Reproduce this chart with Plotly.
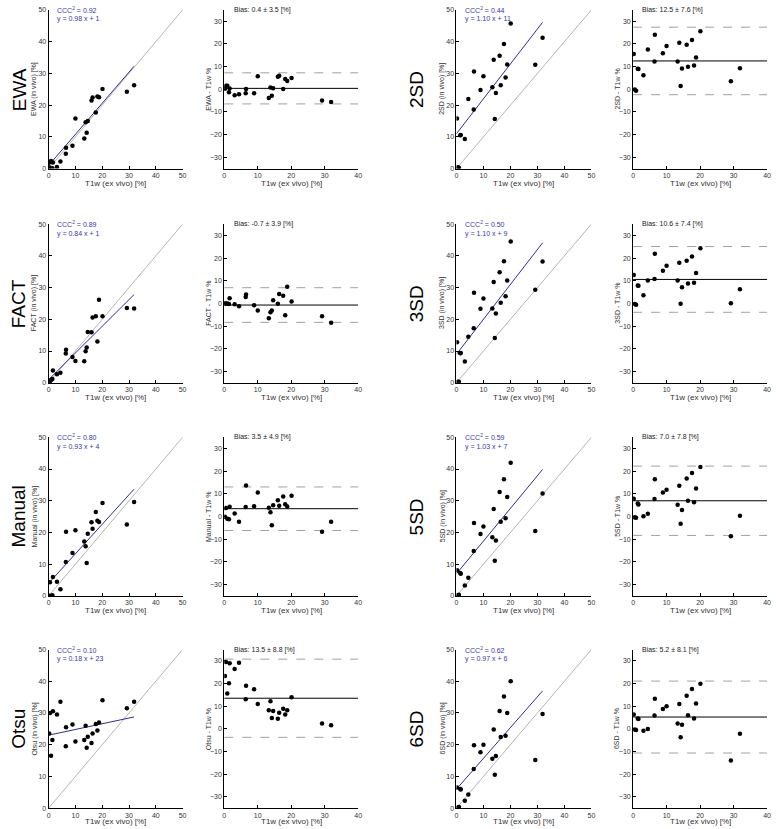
import plotly.graph_objects as go

# ---------------- data ----------------
t1w_ex_vivo = [0.2, 0.5, 0.9, 1.4, 1.6, 3.1, 4.4, 6.4, 6.5, 8.9, 10.0, 13.3, 13.8,
               14.2, 14.6, 16.0, 16.4, 17.6, 18.2, 18.8, 20.1, 29.2, 31.9]

ewa = [0.4, 2.0, 2.4, 0.1, 1.9, 0.5, 2.2, 4.7, 6.6, 7.2, 15.8, 9.5, 14.6,
       11.3, 15.0, 21.5, 22.4, 17.7, 22.7, 22.5, 25.1, 24.2, 26.3]
fact = [0.2, 0.5, 0.9, 1.2, 3.9, 2.7, 3.2, 9.2, 10.4, 8.1, 6.9, 6.8, 9.9,
        11.1, 16.0, 15.9, 20.6, 21.0, 13.0, 26.2, 21.0, 23.6, 23.4]
manual = [0.1, 4.3, 0.0, 0.2, 6.0, 4.5, 2.1, 10.7, 20.2, 13.5, 20.7, 17.2, 15.7,
          10.4, 19.6, 23.2, 21.2, 26.5, 23.7, 23.3, 29.3, 22.5, 29.6]
otsu = [23.5, 30.0, 16.5, 21.5, 30.5, 29.5, 33.5, 19.5, 25.5, 26.4, 21.0, 21.5, 26.0,
        19.0, 22.5, 20.5, 23.5, 26.5, 24.5, 27.0, 34.0, 31.5, 33.5]
sd2 = [15.8, 0.4, 0.3, 10.5, 10.6, 9.3, 21.9, 18.6, 30.6, 24.8, 29.1, 25.6, 34.3,
       15.6, 23.8, 35.6, 26.3, 39.3, 28.7, 32.8, 45.7, 32.7, 41.2]
sd3 = [12.8, 0.3, 0.3, 9.3, 9.4, 6.7, 14.5, 17.2, 28.4, 23.3, 26.6, 23.4, 31.8,
       14.1, 21.8, 34.8, 25.2, 38.3, 27.3, 32.2, 44.5, 29.3, 38.2]
sd5 = [8.1, 0.2, 0.4, 7.2, 7.0, 3.3, 5.7, 14.2, 23.0, 19.5, 21.9, 18.5, 27.4,
       11.1, 17.5, 32.8, 23.4, 36.8, 24.5, 31.2, 42.0, 20.5, 32.3]
sd6 = [6.5, 0.2, 0.4, 6.0, 5.9, 2.3, 4.3, 12.3, 19.8, 17.6, 20.0, 15.6, 24.8,
       10.5, 16.4, 30.6, 22.4, 35.2, 22.8, 30.0, 40.0, 15.2, 29.7]

method_names = ["EWA", "FACT", "Manual", "Otsu", "2SD", "3SD", "5SD", "6SD"]
method_values = [ewa, fact, manual, otsu, sd2, sd3, sd5, sd6]
ccc2_values = [0.92, 0.89, 0.80, 0.10, 0.44, 0.50, 0.59, 0.62]
slopes = [0.98, 0.84, 0.93, 0.18, 1.10, 1.10, 1.03, 0.97]
intercepts = [1, 1, 4, 23, 11, 9, 7, 6]
bias_values = [0.4, -0.7, 3.5, 13.5, 12.5, 10.6, 7.0, 5.2]
bias_sd = [3.5, 3.9, 4.9, 8.8, 7.6, 7.4, 7.8, 8.1]

scatter_ticks = [0, 10, 20, 30, 40, 50]
ba_xticks = [0, 10, 20, 30, 40]
ba_yticks = [-30, -20, -10, 0, 10, 20, 30]

# ---------------- layout geometry ----------------
W, H = 776, 829
sc_x = [(47, 182), (458, 594)]
ba_x = [(224, 359), (636, 771)]
row_y = [(6, 166), (222, 382), (437, 597), (651, 811)]
label_x = [17, 418]

FONT = "Liberation Sans, Arial, sans-serif"
BLUE_LINE = "rgb(45,45,150)"
BLUE_TEXT = "rgb(55,55,175)"

fig = go.Figure()
layout = dict(width=W, height=H, margin=dict(l=0, r=0, t=0, b=0),
              paper_bgcolor="white", plot_bgcolor="white", showlegend=False,
              font=dict(family=FONT, color="#222"))
annotations = []


def px(x):
    return x / W


def py(y):
    return 1 - y / H


def axis_style(rng, tickvals, domain, anchor):
    return dict(range=rng, tickvals=tickvals, domain=domain, anchor=anchor,
                showline=True, linecolor="black", linewidth=1, mirror=False,
                ticks="inside", ticklen=3, tickcolor="black", tickwidth=1,
                showgrid=False, zeroline=False, fixedrange=True,
                tickfont=dict(size=7, color="#333", family=FONT))


for i, name in enumerate(method_names):
    g, r = i // 4, i % 4
    vals = method_values[i]
    y0, y1 = row_y[r]
    ydom = [py(y1), py(y0)]
    title_y = min(y1 + 15, 824)
    # ----- scatter panel -----
    ai = 2 * i + 1
    xa, ya = f"x{ai}", f"y{ai}"
    xs0, xs1 = sc_x[g]
    layout[f"xaxis{ai}"] = axis_style([0, 50], scatter_ticks, [px(xs0), px(xs1)], ya)
    layout[f"yaxis{ai}"] = axis_style([0, 50], scatter_ticks, ydom, xa)
    fig.add_trace(go.Scatter(x=[0, 50], y=[0, 50], mode="lines", xaxis=xa, yaxis=ya,
                             line=dict(color="#b4b4b4", width=1)))
    xmax = max(t1w_ex_vivo)
    fig.add_trace(go.Scatter(x=[0, xmax],
                             y=[intercepts[i], slopes[i] * xmax + intercepts[i]],
                             mode="lines", xaxis=xa, yaxis=ya,
                             line=dict(color=BLUE_LINE, width=1)))
    fig.add_trace(go.Scatter(x=t1w_ex_vivo, y=vals, mode="markers", xaxis=xa, yaxis=ya,
                             marker=dict(color="black", size=4.5, symbol="circle")))
    annotations.append(dict(x=2.5, y=50, xref=xa, yref=ya, xanchor="left", yanchor="middle",
                            text=f"CCC<sup>2</sup> = {ccc2_values[i]:.2f}", showarrow=False,
                            font=dict(size=7, color=BLUE_TEXT, family=FONT)))
    annotations.append(dict(x=2.5, y=47, xref=xa, yref=ya, xanchor="left", yanchor="middle",
                            text=f"y = {slopes[i]:.2f} x + {intercepts[i]}", showarrow=False,
                            font=dict(size=7, color=BLUE_TEXT, family=FONT)))
    # axis titles
    annotations.append(dict(x=px((xs0 + xs1) / 2), y=py(title_y), xref="paper", yref="paper",
                            text="T1w (ex vivo) [%]", showarrow=False, xanchor="center",
                            yanchor="middle", font=dict(size=8, color="#333", family=FONT)))
    annotations.append(dict(x=px(xs0 - 14), y=py((y0 + y1) / 2), xref="paper", yref="paper",
                            text=f"{name} (in vivo) [%]", showarrow=False, textangle=-90,
                            xanchor="center", yanchor="middle",
                            font=dict(size=7, color="#333", family=FONT)))
    # row label
    annotations.append(dict(x=px(label_x[g]), y=py((y0 + y1) / 2), xref="paper", yref="paper",
                            text=name, showarrow=False, textangle=-90, xanchor="center",
                            yanchor="middle", font=dict(size=19, color="black", family=FONT)))

    # ----- Bland-Altman panel -----
    bi = 2 * i + 2
    xb, yb = f"x{bi}", f"y{bi}"
    xb0, xb1 = ba_x[g]
    layout[f"xaxis{bi}"] = axis_style([0, 40], ba_xticks, [px(xb0), px(xb1)], yb)
    layout[f"yaxis{bi}"] = axis_style([-35, 35], ba_yticks, ydom, xb)
    b, s = bias_values[i], bias_sd[i]
    for lv, col, dash in [(b + 1.96 * s, "#a0a0a0", "dash"), (b - 1.96 * s, "#a0a0a0", "dash"),
                          (b, "black", "solid")]:
        fig.add_trace(go.Scatter(x=[0, 40], y=[lv, lv], mode="lines", xaxis=xb, yaxis=yb,
                                 line=dict(color=col, width=1, dash=dash)))
    diffs = [v - t for v, t in zip(vals, t1w_ex_vivo)]
    fig.add_trace(go.Scatter(x=t1w_ex_vivo, y=diffs, mode="markers", xaxis=xb, yaxis=yb,
                             marker=dict(color="black", size=4.5, symbol="circle")))
    annotations.append(dict(x=2.2, y=35, xref=xb, yref=yb, xanchor="left", yanchor="middle",
                            text=f"Bias: {b:.1f} \u00b1 {s:.1f} [%]", showarrow=False,
                            font=dict(size=7, color="#222", family=FONT)))
    annotations.append(dict(x=px((xb0 + xb1) / 2), y=py(title_y), xref="paper", yref="paper",
                            text="T1w (ex vivo) [%]", showarrow=False, xanchor="center",
                            yanchor="middle", font=dict(size=8, color="#333", family=FONT)))
    annotations.append(dict(x=px(xb0 - 16), y=py((y0 + y1) / 2), xref="paper", yref="paper",
                            text=f"{name} - T1w %", showarrow=False, textangle=-90,
                            xanchor="center", yanchor="middle",
                            font=dict(size=7, color="#333", family=FONT)))

layout["annotations"] = annotations
fig.update_layout(**layout)
fig.write_html("out.html")
